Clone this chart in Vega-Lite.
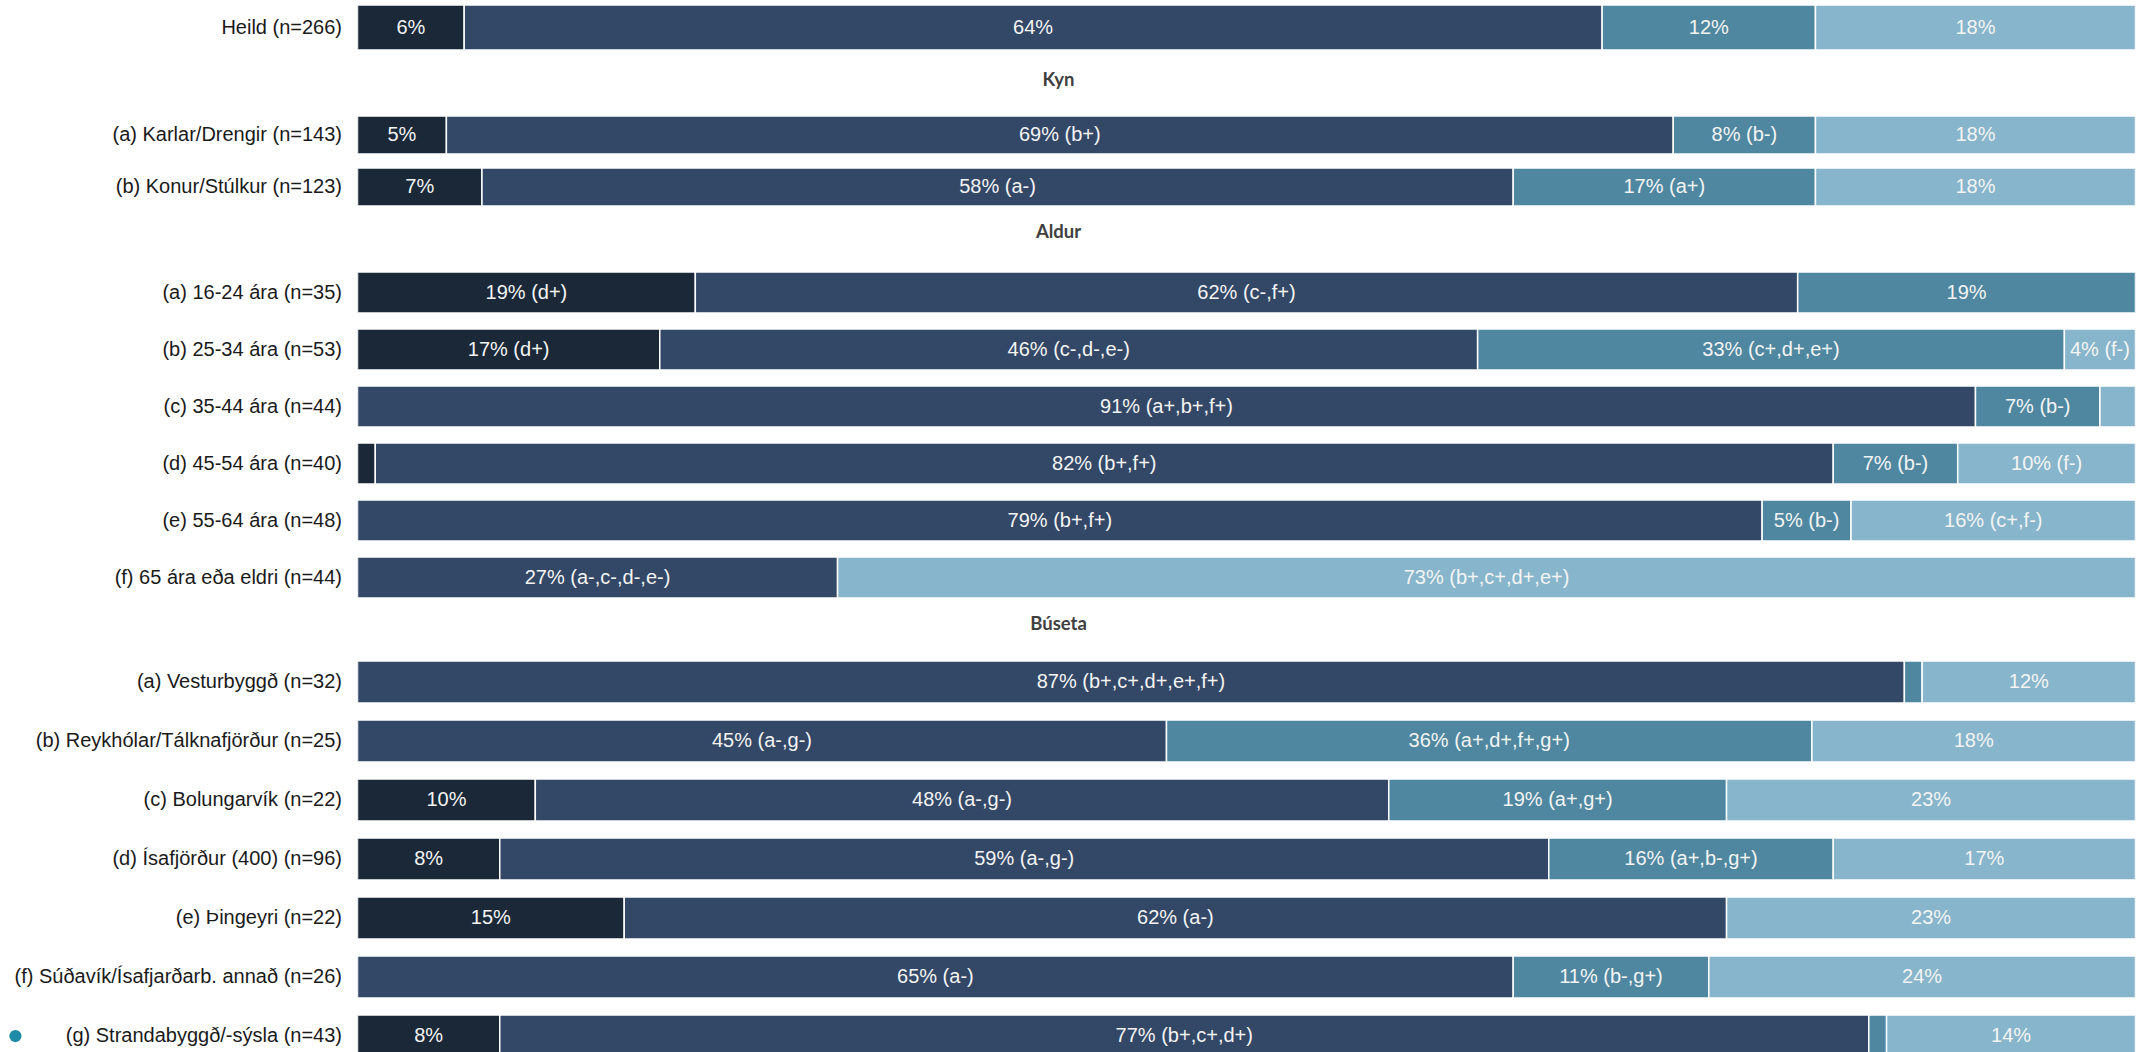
{
  "$schema": "https://vega.github.io/schema/vega-lite/v6.json",
  "background": "white",
  "padding": {"left": 8.5, "top": 0, "right": 0, "bottom": 0},
  "spacing": 0,
  "bounds": "flush",
  "config": {
    "view": {"stroke": null},
    "axisY": {"ticks": false, "domain": false, "grid": false, "labelFont": "Liberation Sans", "labelFontSize": 20, "labelColor": "#1a1a1a", "labelPadding": 16, "labelLimit": 0}
  },
  "datasets": {
    "bars": [
      {"sec": "A", "row": "Heild (n=266)", "k": 1, "v": 6, "lab": "6%"},
      {"sec": "A", "row": "Heild (n=266)", "k": 2, "v": 64, "lab": "64%"},
      {"sec": "A", "row": "Heild (n=266)", "k": 3, "v": 12, "lab": "12%"},
      {"sec": "A", "row": "Heild (n=266)", "k": 4, "v": 18, "lab": "18%"},
      {"sec": "B", "row": "(a) Karlar/Drengir (n=143)", "k": 1, "v": 5, "lab": "5%"},
      {"sec": "B", "row": "(a) Karlar/Drengir (n=143)", "k": 2, "v": 69, "lab": "69% (b+)"},
      {"sec": "B", "row": "(a) Karlar/Drengir (n=143)", "k": 3, "v": 8, "lab": "8% (b-)"},
      {"sec": "B", "row": "(a) Karlar/Drengir (n=143)", "k": 4, "v": 18, "lab": "18%"},
      {"sec": "B", "row": "(b) Konur/Stúlkur (n=123)", "k": 1, "v": 7, "lab": "7%"},
      {"sec": "B", "row": "(b) Konur/Stúlkur (n=123)", "k": 2, "v": 58, "lab": "58% (a-)"},
      {"sec": "B", "row": "(b) Konur/Stúlkur (n=123)", "k": 3, "v": 17, "lab": "17% (a+)"},
      {"sec": "B", "row": "(b) Konur/Stúlkur (n=123)", "k": 4, "v": 18, "lab": "18%"},
      {"sec": "C", "row": "(a) 16-24 ára (n=35)", "k": 1, "v": 19, "lab": "19% (d+)"},
      {"sec": "C", "row": "(a) 16-24 ára (n=35)", "k": 2, "v": 62, "lab": "62% (c-,f+)"},
      {"sec": "C", "row": "(a) 16-24 ára (n=35)", "k": 3, "v": 19, "lab": "19%"},
      {"sec": "C", "row": "(b) 25-34 ára (n=53)", "k": 1, "v": 17, "lab": "17% (d+)"},
      {"sec": "C", "row": "(b) 25-34 ára (n=53)", "k": 2, "v": 46, "lab": "46% (c-,d-,e-)"},
      {"sec": "C", "row": "(b) 25-34 ára (n=53)", "k": 3, "v": 33, "lab": "33% (c+,d+,e+)"},
      {"sec": "C", "row": "(b) 25-34 ára (n=53)", "k": 4, "v": 4, "lab": "4% (f-)"},
      {"sec": "C", "row": "(c) 35-44 ára (n=44)", "k": 2, "v": 91, "lab": "91% (a+,b+,f+)"},
      {"sec": "C", "row": "(c) 35-44 ára (n=44)", "k": 3, "v": 7, "lab": "7% (b-)"},
      {"sec": "C", "row": "(c) 35-44 ára (n=44)", "k": 4, "v": 2, "lab": ""},
      {"sec": "C", "row": "(d) 45-54 ára (n=40)", "k": 1, "v": 1, "lab": ""},
      {"sec": "C", "row": "(d) 45-54 ára (n=40)", "k": 2, "v": 82, "lab": "82% (b+,f+)"},
      {"sec": "C", "row": "(d) 45-54 ára (n=40)", "k": 3, "v": 7, "lab": "7% (b-)"},
      {"sec": "C", "row": "(d) 45-54 ára (n=40)", "k": 4, "v": 10, "lab": "10% (f-)"},
      {"sec": "C", "row": "(e) 55-64 ára (n=48)", "k": 2, "v": 79, "lab": "79% (b+,f+)"},
      {"sec": "C", "row": "(e) 55-64 ára (n=48)", "k": 3, "v": 5, "lab": "5% (b-)"},
      {"sec": "C", "row": "(e) 55-64 ára (n=48)", "k": 4, "v": 16, "lab": "16% (c+,f-)"},
      {"sec": "C", "row": "(f) 65 ára eða eldri (n=44)", "k": 2, "v": 27, "lab": "27% (a-,c-,d-,e-)"},
      {"sec": "C", "row": "(f) 65 ára eða eldri (n=44)", "k": 4, "v": 73, "lab": "73% (b+,c+,d+,e+)"},
      {"sec": "D", "row": "(a) Vesturbyggð (n=32)", "k": 2, "v": 87, "lab": "87% (b+,c+,d+,e+,f+)"},
      {"sec": "D", "row": "(a) Vesturbyggð (n=32)", "k": 3, "v": 1, "lab": ""},
      {"sec": "D", "row": "(a) Vesturbyggð (n=32)", "k": 4, "v": 12, "lab": "12%"},
      {"sec": "D", "row": "(b) Reykhólar/Tálknafjörður (n=25)", "k": 2, "v": 45.5, "lab": "45% (a-,g-)"},
      {"sec": "D", "row": "(b) Reykhólar/Tálknafjörður (n=25)", "k": 3, "v": 36.3, "lab": "36% (a+,d+,f+,g+)"},
      {"sec": "D", "row": "(b) Reykhólar/Tálknafjörður (n=25)", "k": 4, "v": 18.2, "lab": "18%"},
      {"sec": "D", "row": "(c) Bolungarvík (n=22)", "k": 1, "v": 10, "lab": "10%"},
      {"sec": "D", "row": "(c) Bolungarvík (n=22)", "k": 2, "v": 48, "lab": "48% (a-,g-)"},
      {"sec": "D", "row": "(c) Bolungarvík (n=22)", "k": 3, "v": 19, "lab": "19% (a+,g+)"},
      {"sec": "D", "row": "(c) Bolungarvík (n=22)", "k": 4, "v": 23, "lab": "23%"},
      {"sec": "D", "row": "(d) Ísafjörður (400) (n=96)", "k": 1, "v": 8, "lab": "8%"},
      {"sec": "D", "row": "(d) Ísafjörður (400) (n=96)", "k": 2, "v": 59, "lab": "59% (a-,g-)"},
      {"sec": "D", "row": "(d) Ísafjörður (400) (n=96)", "k": 3, "v": 16, "lab": "16% (a+,b-,g+)"},
      {"sec": "D", "row": "(d) Ísafjörður (400) (n=96)", "k": 4, "v": 17, "lab": "17%"},
      {"sec": "D", "row": "(e) Þingeyri (n=22)", "k": 1, "v": 15, "lab": "15%"},
      {"sec": "D", "row": "(e) Þingeyri (n=22)", "k": 2, "v": 62, "lab": "62% (a-)"},
      {"sec": "D", "row": "(e) Þingeyri (n=22)", "k": 4, "v": 23, "lab": "23%"},
      {"sec": "D", "row": "(f) Súðavík/Ísafjarðarb. annað (n=26)", "k": 2, "v": 65, "lab": "65% (a-)"},
      {"sec": "D", "row": "(f) Súðavík/Ísafjarðarb. annað (n=26)", "k": 3, "v": 11, "lab": "11% (b-,g+)"},
      {"sec": "D", "row": "(f) Súðavík/Ísafjarðarb. annað (n=26)", "k": 4, "v": 24, "lab": "24%"},
      {"sec": "D", "row": "(g) Strandabyggð/-sýsla (n=43)", "k": 1, "v": 8, "lab": "8%"},
      {"sec": "D", "row": "(g) Strandabyggð/-sýsla (n=43)", "k": 2, "v": 77, "lab": "77% (b+,c+,d+)"},
      {"sec": "D", "row": "(g) Strandabyggð/-sýsla (n=43)", "k": 3, "v": 1, "lab": ""},
      {"sec": "D", "row": "(g) Strandabyggð/-sýsla (n=43)", "k": 4, "v": 14, "lab": "14%"}
    ],
    "heads": [
      {"sec": "B", "row": "Kyn"},
      {"sec": "C", "row": "Aldur"},
      {"sec": "D", "row": "Búseta"}
    ],
    "marker": [
      {"sec": "D", "row": "(g) Strandabyggð/-sýsla (n=43)"}
    ]
  },
  "vconcat": [
    {
      "width": 1778, "height": 55,
      "layer": [
        {
          "data": {"name": "bars"},
          "transform": [{"filter": {"field": "sec", "equal": "A"}}, {"stack": "v", "groupby": ["row"], "sort": [{"field": "k", "order": "ascending"}], "as": ["v0", "v1"]}],
          "mark": {"type": "bar", "stroke": "white", "strokeWidth": 1.5, "clip": true},
          "encoding": {
            "y": {"field": "row", "type": "nominal", "title": null, "scale": {"domain": ["Heild (n=266)"], "paddingInner": 0, "paddingOuter": 0.111, "align": 0.5}},
            "x": {"field": "v0", "type": "quantitative", "scale": {"domain": [0, 100]}, "axis": null},
            "x2": {"field": "v1"},
            "color": {"field": "k", "type": "nominal", "scale": {"domain": [1, 2, 3, 4], "range": ["#1a2838", "#334766", "#4f87a0", "#87b5cb"]}, "legend": null}
          }
        },
        {
          "data": {"name": "bars"},
          "transform": [{"filter": {"field": "sec", "equal": "A"}}, {"stack": "v", "groupby": ["row"], "sort": [{"field": "k", "order": "ascending"}], "as": ["v0", "v1"]}, {"fold": ["v0", "v1"], "as": ["edge", "pos"]}],
          "mark": {"type": "text", "color": "#f4f4f4", "font": "Liberation Sans", "fontSize": 20, "baseline": "middle", "align": "center"},
          "encoding": {
            "y": {"field": "row", "type": "nominal", "title": null},
            "x": {"aggregate": "mean", "field": "pos", "type": "quantitative", "stack": null, "scale": {"domain": [0, 100]}, "axis": null},
            "detail": {"field": "k", "type": "nominal"},
            "text": {"field": "lab", "type": "nominal"}
          }
        }
      ]
    },
    {
      "width": 1778, "height": 160,
      "layer": [
        {
          "data": {"name": "bars"},
          "transform": [{"filter": {"field": "sec", "equal": "B"}}, {"stack": "v", "groupby": ["row"], "sort": [{"field": "k", "order": "ascending"}], "as": ["v0", "v1"]}],
          "mark": {"type": "bar", "stroke": "white", "strokeWidth": 1.5, "clip": true},
          "encoding": {
            "y": {"field": "row", "type": "nominal", "title": null, "scale": {"domain": ["Kyn", "(a) Karlar/Drengir (n=143)", "(b) Konur/Stúlkur (n=123)"], "paddingInner": 0.269, "paddingOuter": 0.173, "align": 0.5}, "axis": {"values": ["(a) Karlar/Drengir (n=143)", "(b) Konur/Stúlkur (n=123)"]}},
            "x": {"field": "v0", "type": "quantitative", "scale": {"domain": [0, 100]}, "axis": null},
            "x2": {"field": "v1"},
            "color": {"field": "k", "type": "nominal", "scale": {"domain": [1, 2, 3, 4], "range": ["#1a2838", "#334766", "#4f87a0", "#87b5cb"]}, "legend": null}
          }
        },
        {
          "data": {"name": "bars"},
          "transform": [{"filter": {"field": "sec", "equal": "B"}}, {"stack": "v", "groupby": ["row"], "sort": [{"field": "k", "order": "ascending"}], "as": ["v0", "v1"]}, {"fold": ["v0", "v1"], "as": ["edge", "pos"]}],
          "mark": {"type": "text", "color": "#f4f4f4", "font": "Liberation Sans", "fontSize": 20, "baseline": "middle", "align": "center"},
          "encoding": {
            "y": {"field": "row", "type": "nominal", "title": null},
            "x": {"aggregate": "mean", "field": "pos", "type": "quantitative", "stack": null, "scale": {"domain": [0, 100]}, "axis": null},
            "detail": {"field": "k", "type": "nominal"},
            "text": {"field": "lab", "type": "nominal"}
          }
        },
        {
          "data": {"name": "heads"},
          "transform": [{"filter": {"field": "sec", "equal": "B"}}],
          "mark": {"type": "text", "font": "Lato", "fontWeight": "bold", "fontSize": 18.5, "color": "#404040", "baseline": "middle", "align": "center", "dy": -3},
          "encoding": {
            "y": {"field": "row", "type": "nominal", "title": null},
            "x": {"datum": 39.43, "type": "quantitative", "scale": {"domain": [0, 100]}, "axis": null},
            "text": {"field": "row", "type": "nominal"}
          }
        }
      ]
    },
    {
      "width": 1778, "height": 385,
      "layer": [
        {
          "data": {"name": "bars"},
          "transform": [{"filter": {"field": "sec", "equal": "C"}}, {"stack": "v", "groupby": ["row"], "sort": [{"field": "k", "order": "ascending"}], "as": ["v0", "v1"]}],
          "mark": {"type": "bar", "stroke": "white", "strokeWidth": 1.5, "clip": true},
          "encoding": {
            "y": {"field": "row", "type": "nominal", "title": null, "scale": {"domain": ["Aldur", "(a) 16-24 ára (n=35)", "(b) 25-34 ára (n=53)", "(c) 35-44 ára (n=44)", "(d) 45-54 ára (n=40)", "(e) 55-64 ára (n=48)", "(f) 65 ára eða eldri (n=44)"], "paddingInner": 0.28, "paddingOuter": 0.017, "align": 0}, "axis": {"values": ["(a) 16-24 ára (n=35)", "(b) 25-34 ára (n=53)", "(c) 35-44 ára (n=44)", "(d) 45-54 ára (n=40)", "(e) 55-64 ára (n=48)", "(f) 65 ára eða eldri (n=44)"]}},
            "x": {"field": "v0", "type": "quantitative", "scale": {"domain": [0, 100]}, "axis": null},
            "x2": {"field": "v1"},
            "color": {"field": "k", "type": "nominal", "scale": {"domain": [1, 2, 3, 4], "range": ["#1a2838", "#334766", "#4f87a0", "#87b5cb"]}, "legend": null}
          }
        },
        {
          "data": {"name": "bars"},
          "transform": [{"filter": {"field": "sec", "equal": "C"}}, {"stack": "v", "groupby": ["row"], "sort": [{"field": "k", "order": "ascending"}], "as": ["v0", "v1"]}, {"fold": ["v0", "v1"], "as": ["edge", "pos"]}],
          "mark": {"type": "text", "color": "#f4f4f4", "font": "Liberation Sans", "fontSize": 20, "baseline": "middle", "align": "center"},
          "encoding": {
            "y": {"field": "row", "type": "nominal", "title": null},
            "x": {"aggregate": "mean", "field": "pos", "type": "quantitative", "stack": null, "scale": {"domain": [0, 100]}, "axis": null},
            "detail": {"field": "k", "type": "nominal"},
            "text": {"field": "lab", "type": "nominal"}
          }
        },
        {
          "data": {"name": "heads"},
          "transform": [{"filter": {"field": "sec", "equal": "C"}}],
          "mark": {"type": "text", "font": "Lato", "fontWeight": "bold", "fontSize": 18.5, "color": "#404040", "baseline": "middle", "align": "center", "dy": -3.5},
          "encoding": {
            "y": {"field": "row", "type": "nominal", "title": null},
            "x": {"datum": 39.43, "type": "quantitative", "scale": {"domain": [0, 100]}, "axis": null},
            "text": {"field": "row", "type": "nominal"}
          }
        }
      ]
    },
    {
      "width": 1778, "height": 452,
      "layer": [
        {
          "data": {"name": "bars"},
          "transform": [{"filter": {"field": "sec", "equal": "D"}}, {"stack": "v", "groupby": ["row"], "sort": [{"field": "k", "order": "ascending"}], "as": ["v0", "v1"]}],
          "mark": {"type": "bar", "stroke": "white", "strokeWidth": 1.5, "clip": true},
          "encoding": {
            "y": {"field": "row", "type": "nominal", "title": null, "scale": {"domain": ["Búseta", "(a) Vesturbyggð (n=32)", "(b) Reykhólar/Tálknafjörður (n=25)", "(c) Bolungarvík (n=22)", "(d) Ísafjörður (400) (n=96)", "(e) Þingeyri (n=22)", "(f) Súðavík/Ísafjarðarb. annað (n=26)", "(g) Strandabyggð/-sýsla (n=43)"], "range": [0, 472], "paddingInner": 0.288, "paddingOuter": 0.144, "align": 0.118}, "axis": {"values": ["(a) Vesturbyggð (n=32)", "(b) Reykhólar/Tálknafjörður (n=25)", "(c) Bolungarvík (n=22)", "(d) Ísafjörður (400) (n=96)", "(e) Þingeyri (n=22)", "(f) Súðavík/Ísafjarðarb. annað (n=26)", "(g) Strandabyggð/-sýsla (n=43)"]}},
            "x": {"field": "v0", "type": "quantitative", "scale": {"domain": [0, 100]}, "axis": null},
            "x2": {"field": "v1"},
            "color": {"field": "k", "type": "nominal", "scale": {"domain": [1, 2, 3, 4], "range": ["#1a2838", "#334766", "#4f87a0", "#87b5cb"]}, "legend": null}
          }
        },
        {
          "data": {"name": "bars"},
          "transform": [{"filter": {"field": "sec", "equal": "D"}}, {"stack": "v", "groupby": ["row"], "sort": [{"field": "k", "order": "ascending"}], "as": ["v0", "v1"]}, {"fold": ["v0", "v1"], "as": ["edge", "pos"]}],
          "mark": {"type": "text", "color": "#f4f4f4", "font": "Liberation Sans", "fontSize": 20, "baseline": "middle", "align": "center"},
          "encoding": {
            "y": {"field": "row", "type": "nominal", "title": null},
            "x": {"aggregate": "mean", "field": "pos", "type": "quantitative", "stack": null, "scale": {"domain": [0, 100]}, "axis": null},
            "detail": {"field": "k", "type": "nominal"},
            "text": {"field": "lab", "type": "nominal"}
          }
        },
        {
          "data": {"name": "heads"},
          "transform": [{"filter": {"field": "sec", "equal": "D"}}],
          "mark": {"type": "text", "font": "Lato", "fontWeight": "bold", "fontSize": 18.5, "color": "#404040", "baseline": "middle", "align": "center", "dy": 1},
          "encoding": {
            "y": {"field": "row", "type": "nominal", "title": null},
            "x": {"datum": 39.43, "type": "quantitative", "scale": {"domain": [0, 100]}, "axis": null},
            "text": {"field": "row", "type": "nominal"}
          }
        },
        {
          "data": {"name": "marker"},
          "mark": {"type": "point", "filled": true, "opacity": 1, "color": "#1f8aa6", "size": 150},
          "encoding": {
            "y": {"field": "row", "type": "nominal", "title": null},
            "x": {"datum": -19.24, "type": "quantitative", "scale": {"domain": [0, 100]}, "axis": null}
          }
        }
      ]
    }
  ]
}
